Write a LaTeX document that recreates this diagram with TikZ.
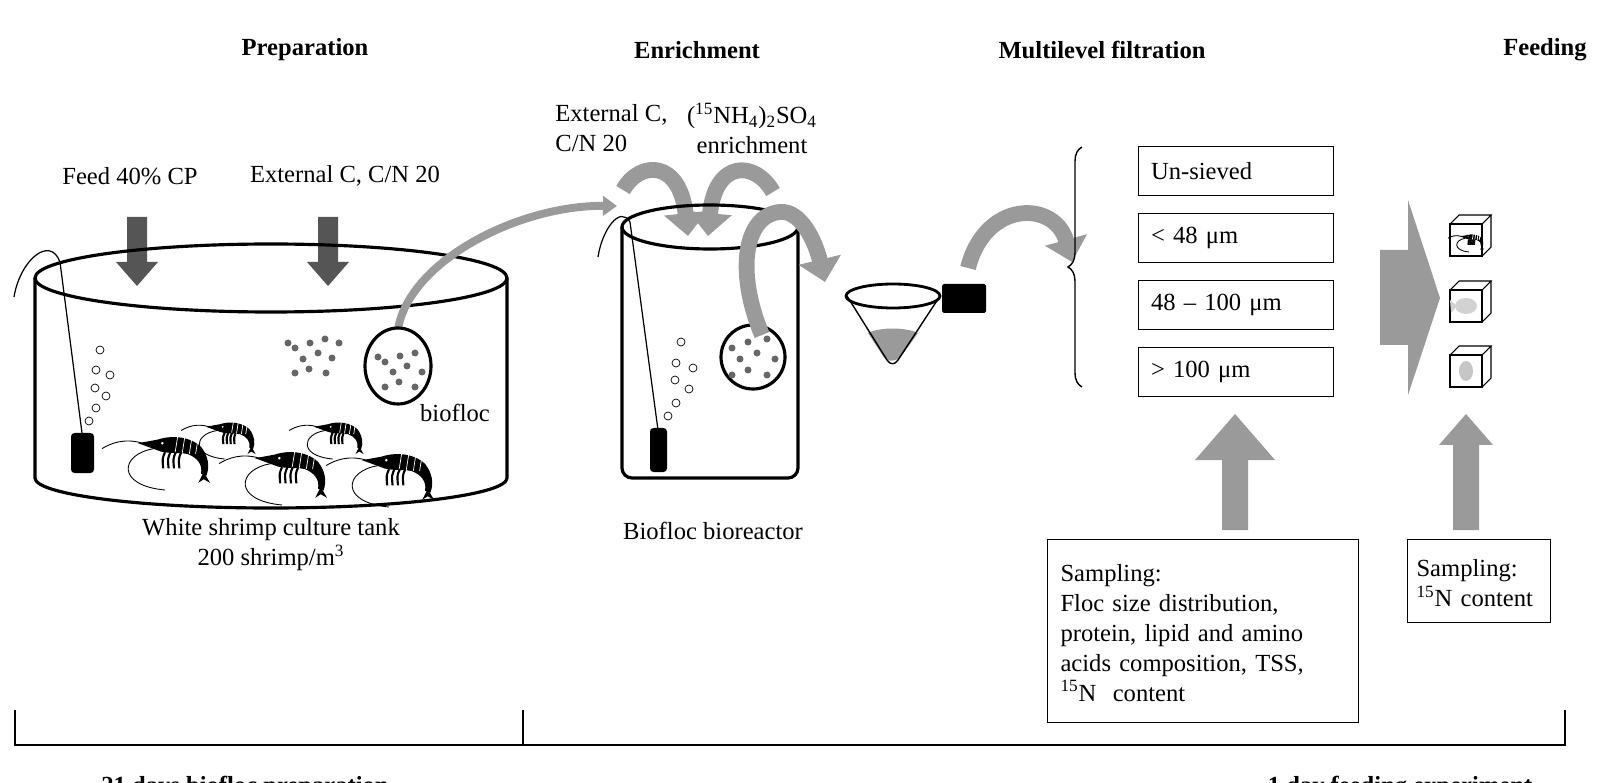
\documentclass[tikz,border=0pt]{standalone}
\usepackage{fontspec}
\setmainfont{Liberation Serif}
\usetikzlibrary{arrows.meta,decorations.pathreplacing}

\definecolor{arrowdark}{HTML}{555555}
\definecolor{flocgray}{HTML}{9A9A9A}
\definecolor{dotgray}{HTML}{666666}

% simplified shrimp: head tip at (#1,#2), scaled by #3
\newcommand{\shrimp}[3]{%
  \begin{scope}[shift={(#1,#2)},scale=#3]
    \fill[black] (0,-2) -- (22,-6) .. controls (40,-12) and (60,-8) .. (70,2)
      .. controls (78,12) and (80,24) .. (76,34) -- (70,32)
      .. controls (72,22) and (66,14) .. (55,10)
      .. controls (45,8) and (30,10) .. (22,6) -- cycle;
    \fill[black] (73,30) -- (67,42) -- (73,38) -- (80,42) -- cycle;
    \fill[white] (27,-2) circle (1.6);
    \foreach \s in {44,52,60,67} \draw[white, line width=0.4pt] (\s,-9) -- (\s-3,10);
    \foreach \s in {30,36,42,48} \draw[black, line width=1.2pt] (\s,8) .. controls (\s-3,15) .. (\s-2,26);
    \draw[black, line width=0.5pt] (5,-2) .. controls (-15,-8) and (-30,-2) .. (-40,4);
    \draw[black, line width=0.5pt] (18,4) .. controls (-20,10) and (-25,45) .. (30,50);
  \end{scope}}

% simple cube: front top-left at (#1,#2)
\newcommand{\cube}[2]{%
  \draw[line width=0.6pt, fill=white] (#1,#2) rectangle ++(32,32);
  \draw[line width=0.6pt] (#1,#2) -- ++(9,-9) -- ++(32,0) -- ++(-9,9);
  \draw[line width=0.6pt] (#1+41,#2-9) -- ++(0,32) -- ++(-9,9);}

\begin{document}
\begin{tikzpicture}[x=0.02cm, y=-0.02cm, font=\fontsize{14}{17}\selectfont]

\tikzset{
  title/.style={font=\fontsize{14}{17}\selectfont\bfseries},
  label/.style={align=center, inner sep=0pt},
  sizebox/.style={draw, line width=0.6pt, inner sep=0pt, anchor=north west,
    minimum width=195*0.02cm, minimum height=49*0.02cm, text width=170*0.02cm},
  tankline/.style={draw=black, line width=1.8pt},
  bubble/.style={draw=black, line width=0.4pt, fill=white},
  flocdot/.style={fill=dotgray},
  fatarrow/.style={draw=flocgray, line width=9pt, -{Triangle[width=24pt,length=13pt]}},
  tube/.style={draw=flocgray, line width=4.5pt, -{Triangle[width=11pt,length=8pt]}}
}

\useasboundingbox (0,0) rectangle (1598,783);

%-------------------------------------------------
% Titles
%-------------------------------------------------
\node[title] (prep) at (305,50) {Preparation};
\node[title] (enrich) at (697,50) {Enrichment};
\node[title] (filt) at (1102,50) {Multilevel filtration};
\node[title] (feed) at (1545,50) {Feeding};

%-------------------------------------------------
% Culture tank
%-------------------------------------------------
\node[label] (feedlbl) at (130,176) {Feed 40\% CP};
\node[label] (extlbl) at (345,176) {External C, C/N 20};
\foreach \x in {137,328}
  \fill[arrowdark] (\x-10,217) -- (\x+10,217) -- (\x+10,262) -- (\x+21,262)
    -- (\x,286) -- (\x-21,262) -- (\x-10,262) -- cycle;

\draw[tankline] (271,278) ellipse (236 and 34);
\draw[tankline] (35,278) -- (35,478) arc[start angle=180, end angle=0, x radius=236, y radius=30] -- (507,278);

% probe and bubbles
\draw[line width=0.7pt] (14,297) .. controls (20,260) and (50,235) .. (60,262) -- (82,433);
\fill[black, rounded corners=2pt] (71,433) rectangle (94,473);
\foreach \bx/\by in {100/350,96/370,110/375,95/388,106/396,96/408,89/421}
  \draw[bubble] (\bx,\by) circle (4);

% free biofloc
\foreach \dx/\dy in {288/343,295/348,310/343,325/339,339/343,318/353,303/359,332/358,309/369,295/373,326/373}
  \fill[flocdot] (\dx,\dy) circle (3.5);

% biofloc loupe and tube to bioreactor
\draw[tube] (398,329) .. controls (410,260) and (520,205) .. (617,206);
\draw[line width=1.8pt, fill=white] (398,366) ellipse (33 and 38);
\foreach \dx/\dy in {378/357,385/362,400/356,415/353,407/366,393/372,422/372,399/382,385/387,415/387}
  \fill[flocdot] (\dx,\dy) circle (3.5);
\node[label] (bioflbl) at (455,413) {biofloc};

% shrimp
\shrimp{138}{445}{0.9}
\shrimp{206}{428}{0.62}
\shrimp{255}{460}{0.9}
\shrimp{314}{428}{0.62}
\shrimp{362}{462}{0.9}

\node[label] (tanklbl) at (271,545) {White shrimp culture tank\\200 shrimp/m\textsuperscript{3}};

%-------------------------------------------------
% Bioreactor
%-------------------------------------------------
\node[label, anchor=west, align=left] (extc) at (555,128) {External C,\\C/N 20};
\node[label] (nh4) at (752,128) {(\textsuperscript{15}NH\textsubscript{4})\textsubscript{2}SO\textsubscript{4}\\enrichment};

\draw[line width=0.7pt] (598,257) .. controls (602,230) and (620,205) .. (630,222) -- (658,430);
\fill[black, rounded corners=2pt] (650,428) rectangle (667,472);
\foreach \bx/\by in {681/342,676/363,693/368,675/380,689/389,676/403,668/416}
  \draw[bubble] (\bx,\by) circle (4);

\draw[tankline] (622,227) -- (622,468) arc[start angle=180, end angle=90, radius=10]
  -- (788,478) arc[start angle=90, end angle=0, radius=10] -- (798,227);

\draw[fatarrow] (623,190) .. controls (640,160) and (680,160) .. (688,236);
\draw[fatarrow] (773,192) .. controls (755,160) and (715,160) .. (708,236);
\draw[tankline] (710,227) ellipse (88 and 22);
\draw[line width=1.8pt, fill=white] (753,357) circle (32);
\foreach \dx/\dy in {732/348,748/342,767/339,740/359,757/353,775/359,748/370,767/375,732/375}
  \fill[flocdot] (\dx,\dy) circle (3.5);
\draw[fatarrow] (762,335) .. controls (735,270) and (745,215) .. (780,212)
  .. controls (800,210) and (815,240) .. (825,282);

\node[label] (reactlbl) at (713,531) {Biofloc bioreactor};

%-------------------------------------------------
% Sieve and size classes
%-------------------------------------------------
\fill[flocgray] (868,333) .. controls (880,327) and (905,327) .. (918,333) -- (900,358)
  .. controls (893,362) and (887,362) .. (883,356) -- cycle;
\draw[line width=0.8pt] (847,296) -- (887,360) .. controls (890,365) and (895,365) .. (898,360) -- (940,296);
\draw[line width=1.6pt] (893,296) ellipse (47 and 12);
\fill[black, rounded corners=1pt] (942,284) rectangle (986,313);
\draw[fatarrow] (968,268) .. controls (985,200) and (1055,200) .. (1072,262);

\draw[line width=0.8pt, decorate, decoration={brace, amplitude=8pt}] (1082,387) -- (1082,147);

\node[sizebox] (unsieved) at (1138,146) {Un-sieved};
\node[sizebox] (small) at (1138,213) {< 48 μm};
\node[sizebox] (mid) at (1138,280) {48 – 100 μm};
\node[sizebox] (large) at (1138,347) {> 100 μm};

\fill[flocgray] (1222,530) -- (1248,530) -- (1248,460) -- (1275,460) -- (1235,414)
  -- (1195,460) -- (1222,460) -- cycle;
\node[draw, line width=0.6pt, anchor=north west, align=left, inner sep=0pt,
  minimum width=311*0.02cm, minimum height=183*0.02cm, text width=285*0.02cm] (samp1) at (1047,539)
  {\strut Sampling:\\Floc size distribution,\\protein, lipid and amino\\acids composition, TSS,\\\textsuperscript{15}N\ \ content};

%-------------------------------------------------
% Feeding
%-------------------------------------------------
\fill[flocgray] (1380,250) -- (1408,250) -- (1408,200) -- (1440,298) -- (1408,395)
  -- (1408,345) -- (1380,345) -- cycle;

\cube{1450}{224}
\shrimp{1460}{237}{0.3}
\cube{1450}{290}
\fill[gray!35] (1466,306) ellipse (11 and 8);
\fill[gray!35] (1457,306) -- (1450,300) -- (1451,313) -- cycle;
\cube{1450}{355}
\fill[gray!45] (1466,371) ellipse (7 and 10);

\fill[flocgray] (1453,530) -- (1479,530) -- (1479,445) -- (1493,445) -- (1466,414)
  -- (1439,445) -- (1453,445) -- cycle;
\node[draw, line width=0.6pt, anchor=north west, align=left, inner sep=0pt,
  minimum width=143*0.02cm, minimum height=83*0.02cm, text width=125*0.02cm] (samp2) at (1407,539)
  {\strut Sampling:\\\textsuperscript{15}N content};

%-------------------------------------------------
% Time brackets
%-------------------------------------------------
\draw[line width=0.7pt] (15,710) -- (15,745) -- (1565,745) -- (1565,710);
\draw[line width=0.7pt] (523,710) -- (523,745);
\node[title, anchor=north] (days1) at (245,770) {21 days biofloc preparation};
\node[title, anchor=north] (days2) at (1400,770) {1 day feeding experiment};

\end{tikzpicture}
\end{document}
